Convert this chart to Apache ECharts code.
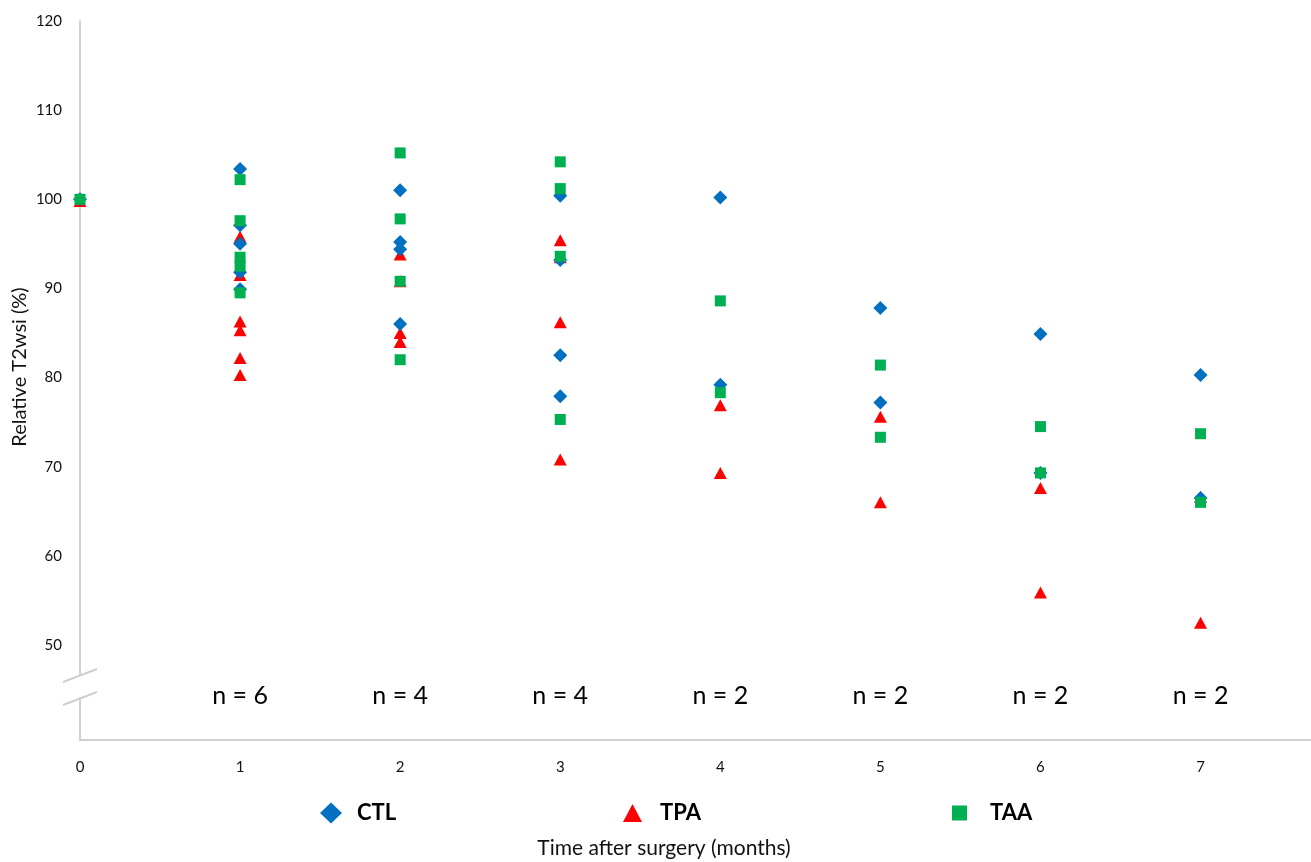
<!DOCTYPE html>
<html>
<head>
<meta charset="utf-8">
<script src="https://cdn.jsdelivr.net/npm/echarts@6/dist/echarts.min.js"></script>
<style>
html,body{margin:0;padding:0;background:#fff;}
#chart{width:1311px;height:862px;}
</style>
</head>
<body>
<div id="chart"></div>
<script>
// Months (x categories) and tick labels
var months = [0, 1, 2, 3, 4, 5, 6, 7];
var yTicks = [50, 60, 70, 80, 90, 100, 110, 120];

// Relative T2wsi (%) values per month
var ctlValues = [
  [100.0],
  [103.4, 97.1, 95.0, 91.8, 89.9],
  [101.0, 95.2, 94.4, 86.0],
  [100.4, 93.2, 82.5, 77.9],
  [100.2, 79.2],
  [87.8, 77.2],
  [84.9, 69.3],
  [80.3, 66.5]
];
var tpaValues = [
  [99.8],
  [95.8, 91.5, 86.3, 85.3, 82.2, 80.3],
  [93.8, 90.8, 85.0, 84.0],
  [95.4, 93.5, 86.2, 70.8],
  [76.9, 69.3],
  [75.6, 66.0],
  [67.6, 55.9],
  [66.6, 52.5]
];
var taaValues = [
  [100.0],
  [102.2, 97.6, 93.5, 92.5, 89.5],
  [105.2, 97.8, 90.8, 82.0],
  [104.2, 101.2, 93.6, 75.3],
  [88.6, 78.3],
  [81.4, 73.3],
  [74.5, 69.3],
  [73.7, 66.0]
];

// Sample-size annotations for months 1..7
var nMonths = [1, 2, 3, 4, 5, 6, 7];
var nLabels = ['n = 6', 'n = 4', 'n = 4', 'n = 2', 'n = 2', 'n = 2', 'n = 2'];
var nLabelLevel = 44.25; // value level at which the n labels sit (below the axis break)

function toPoints(perMonth) {
  var pts = [];
  perMonth.forEach(function (vals, i) {
    vals.forEach(function (v) { pts.push([months[i], v]); });
  });
  return pts;
}

var FONT = 'Lato, "Liberation Sans", sans-serif';
var chart = echarts.init(document.getElementById('chart'));

function legendFor(name, left, icon, w, h, pad) {
  return {
    data: [{ name: name, icon: icon }],
    left: left,
    top: 802,
    padding: 0,
    itemWidth: w,
    itemHeight: h,
    selectedMode: false,
    textStyle: { fontFamily: FONT, fontSize: 22, fontWeight: 'bold', color: '#000', padding: [0, 0, 0, pad] }
  };
}

var option = {
  animation: false,
  backgroundColor: '#ffffff',
  grid: { left: 80, right: 0, top: 21, bottom: 122, containLabel: false },
  legend: [
    legendFor('CTL', 320, 'diamond', 22, 21, 10),
    legendFor('TPA', 623, 'triangle', 19, 18, 13),
    legendFor('TAA', 952, 'rect', 15, 15, 18)
  ],
  xAxis: {
    type: 'value',
    min: 0,
    max: 7.69,
    axisLine: { show: true, onZero: false, lineStyle: { color: '#d0d0d0', width: 2 } },
    axisTick: { show: false },
    splitLine: { show: false },
    axisLabel: {
      customValues: months,
      margin: 20,
      fontFamily: FONT,
      fontSize: 15,
      color: '#111'
    }
  },
  yAxis: {
    type: 'value',
    min: 39.34,
    max: 120,
    axisLine: { show: true, onZero: false, lineStyle: { color: '#d0d0d0', width: 2 } },
    axisTick: { show: false },
    splitLine: { show: false },
    axisLabel: {
      customValues: yTicks,
      margin: 18,
      fontFamily: FONT,
      fontSize: 15,
      color: '#111'
    }
  },
  graphic: [
    { type: 'rect', z: 100, shape: { x: 70, y: 675, width: 20, height: 22 }, style: { fill: '#ffffff' } },
    { type: 'line', z: 101, shape: { x1: 63, y1: 682, x2: 97, y2: 669 }, style: { stroke: '#cfcfcf', lineWidth: 2 } },
    { type: 'line', z: 101, shape: { x1: 63, y1: 705, x2: 97, y2: 692 }, style: { stroke: '#cfcfcf', lineWidth: 2 } },
    {
      type: 'text', z: 101, x: 664, y: 848,
      style: { text: 'Time after surgery (months)', fontFamily: FONT, fontSize: 21, fill: '#111', align: 'center', verticalAlign: 'middle' }
    },
    {
      type: 'text', z: 101, x: 20, y: 367, rotation: Math.PI / 2,
      style: { text: 'Relative T2wsi (%)', fontFamily: FONT, fontSize: 20, fill: '#111', align: 'center', verticalAlign: 'middle' }
    }
  ],
  series: [
    {
      name: 'TPA', type: 'scatter', symbol: 'triangle', symbolSize: [13, 12], z: 2,
      itemStyle: { color: '#ff0000', opacity: 1 },
      data: toPoints(tpaValues)
    },
    {
      name: 'CTL', type: 'scatter', symbol: 'diamond', symbolSize: 14, z: 3,
      itemStyle: { color: '#0070c0', opacity: 1 },
      data: toPoints(ctlValues)
    },
    {
      name: 'TAA', type: 'scatter', symbol: 'rect', symbolSize: 11, z: 4,
      itemStyle: { color: '#00b050', opacity: 1 },
      data: toPoints(taaValues)
    },
    {
      name: 'n', type: 'scatter', symbolSize: 0, silent: true, z: 5,
      itemStyle: { opacity: 1 },
      label: {
        show: true, position: 'inside',
        formatter: function (p) { return nLabels[p.dataIndex]; },
        fontFamily: FONT, fontSize: 25, color: '#000'
      },
      data: nMonths.map(function (m) { return [m, nLabelLevel]; })
    }
  ]
};
chart.setOption(option);
</script>
</body>
</html>
